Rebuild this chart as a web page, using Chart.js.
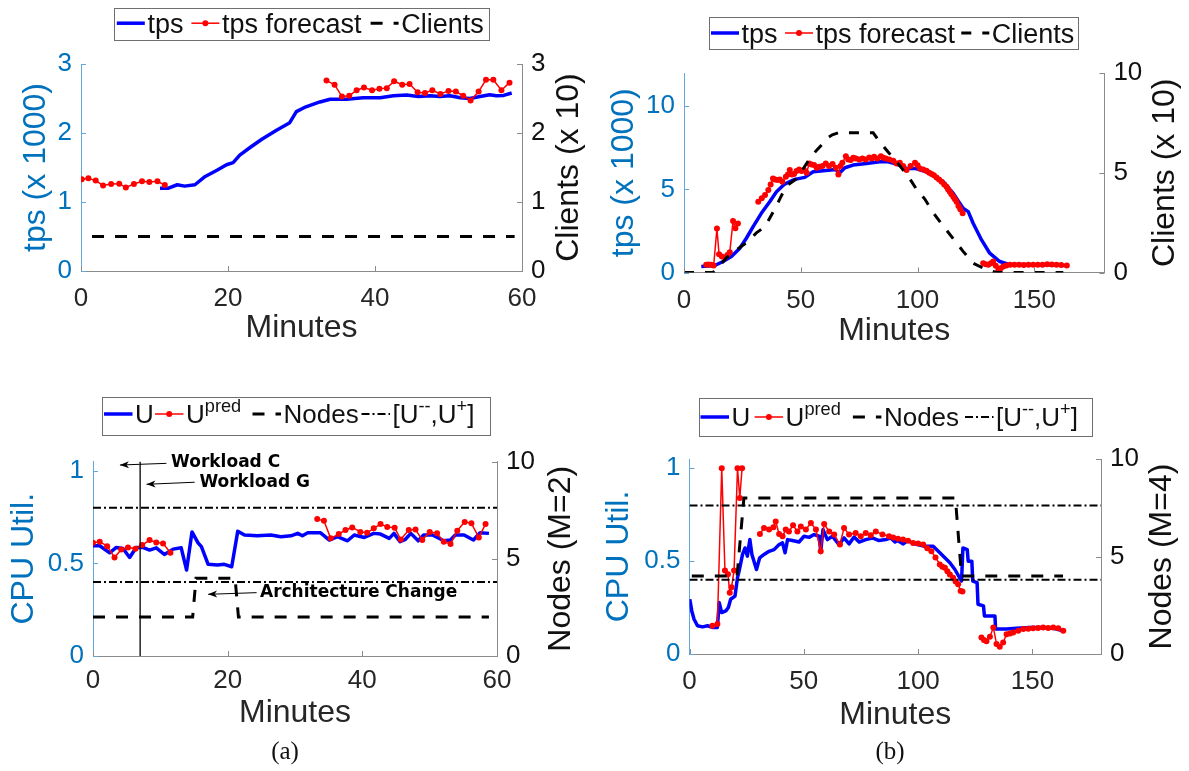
<!DOCTYPE html>
<html>
<head>
<meta charset="utf-8">
<script src="https://cdn.jsdelivr.net/npm/chart.js@4.4.1/dist/chart.umd.min.js"></script>
<style>
  html, body { margin: 0; padding: 0; background: #fff; overflow: hidden; }
  #fig { position: relative; width: 1189px; height: 771px; background: #fff; }
  #fig canvas { position: absolute; }
  .cap { position: absolute; top: 751px; transform: translate(-50%, -50%);
         font-family: 'Liberation Serif', 'DejaVu Serif', serif; font-size: 25px; color: #111; }
</style>
</head>
<body>
<div id="fig">
  <canvas id="chartA" style="left:0;top:0"></canvas>
  <canvas id="chartB" style="left:595px;top:0"></canvas>
  <canvas id="chartC" style="left:0;top:385px"></canvas>
  <canvas id="chartD" style="left:595px;top:385px"></canvas>
  <div class="cap" style="left:285px">(a)</div>
  <div class="cap" style="left:890px">(b)</div>
</div>
<script>
// ---------------- data ----------------
// (a) top: throughput, forecast and client count over a one hour run
const aTpsMin = [10.75, 11.9, 13.1, 14.1, 15.5, 16.9, 18.5, 19.8, 20.7, 21.6, 23.0, 24.6, 26.6, 28.4, 29.3, 30.6, 32.5, 33.9, 36.1, 38.4, 40.7, 42.5, 44.3, 45.9, 47.5, 48.8, 50.2, 51.6, 52.9, 54.3, 55.6, 56.5, 57.5, 58.6];
const aTpsVal = [1.20, 1.20, 1.25, 1.23, 1.25, 1.37, 1.46, 1.54, 1.57, 1.68, 1.79, 1.91, 2.04, 2.15, 2.31, 2.38, 2.45, 2.49, 2.49, 2.51, 2.51, 2.54, 2.55, 2.53, 2.54, 2.53, 2.54, 2.51, 2.50, 2.53, 2.555, 2.54, 2.545, 2.58];
const aFcEarlyMin = [0.1, 1.0, 2.0, 3.0, 4.1, 5.2, 6.1, 7.2, 8.3, 9.3, 10.4, 11.4];
const aFcEarlyVal = [1.33, 1.345, 1.31, 1.24, 1.26, 1.265, 1.21, 1.26, 1.30, 1.29, 1.30, 1.245];
const aFcLateMin = [33.4, 34.5, 35.5, 36.5, 37.5, 38.5, 39.6, 40.6, 41.6, 42.6, 43.7, 44.7, 45.8, 46.8, 47.8, 48.9, 50.0, 51.0, 52.0, 53.0, 54.1, 55.1, 56.1, 57.2, 58.3];
const aFcLateVal = [2.76, 2.70, 2.53, 2.54, 2.62, 2.66, 2.62, 2.64, 2.65, 2.75, 2.70, 2.71, 2.59, 2.58, 2.62, 2.565, 2.61, 2.60, 2.54, 2.47, 2.60, 2.77, 2.77, 2.62, 2.73];
const aClientsMin = [1.5, 59];
const aClientsVal = [0.5, 0.5];

// (b) top: throughput, forecast and client count over the daily-shaped run
const bTpsMin = [7.4, 13.2, 16.7, 20.3, 23.9, 26.7, 29.6, 33.1, 36.7, 39.6, 43.1, 47.4, 51.7, 55.3, 59.6, 65.0, 66.4, 68.9, 72.4, 78.1, 83.8, 87.4, 91.0, 95.3, 98.9, 102.4, 106.7, 111.0, 115.3, 119.5, 121.7, 123.8, 127.4, 130.9, 135.2, 138.8, 148.1, 155.2, 163.1];
const bTpsVal = [0.36, 0.42, 0.66, 0.96, 1.46, 2.06, 2.76, 3.56, 4.26, 4.86, 5.32, 5.60, 5.72, 6.06, 6.12, 6.20, 5.95, 6.30, 6.46, 6.56, 6.66, 6.66, 6.52, 6.26, 6.26, 6.12, 5.86, 5.46, 4.76, 3.86, 3.66, 2.96, 1.96, 1.16, 0.66, 0.50, 0.46, 0.46, 0.42];
const bFcEarlyMin = [9.5, 10.5, 11.6, 12.7, 14.1, 15.0, 16.2, 17.5, 18.6, 19.6, 21.0, 22.0, 23.1];
const bFcEarlyVal = [0.46, 0.48, 0.46, 0.42, 2.64, 1.10, 0.96, 0.90, 1.06, 1.22, 3.10, 2.66, 2.94];
const bFcMidMin = [31.8, 33.3, 34.7, 36.1, 37.1, 38.1, 39.0, 40.0, 41.0, 42.1, 43.6, 44.5, 45.3, 46.2, 47.1, 48.2, 49.3, 50.3, 51.4, 52.5, 53.6, 54.6, 55.7, 56.8, 57.9, 59.3, 60.7, 62.1, 63.6, 65.0, 66.1, 67.0, 67.8, 69.3, 70.3, 71.4, 72.5, 73.6, 75.0, 76.4, 77.8, 79.3, 80.4, 81.4, 82.8, 84.3, 85.3, 86.4, 87.9, 89.6, 91.0, 92.4, 93.8, 95.3, 97.0, 98.9, 100.0, 101.0, 102.4, 103.8, 105.0, 106.0, 107.0, 108.1, 109.2, 110.3, 111.4, 112.4, 113.1, 113.8, 114.5, 115.3, 116.0, 116.7, 117.5, 118.3, 119.3];
const bFcMidVal = [4.26, 4.46, 4.66, 4.96, 5.30, 5.66, 5.60, 5.56, 5.60, 5.46, 5.76, 5.90, 6.16, 5.90, 5.92, 6.10, 6.20, 6.10, 6.16, 6.00, 6.56, 6.50, 6.46, 6.30, 6.36, 6.40, 6.56, 6.40, 6.52, 6.30, 5.90, 6.40, 6.60, 7.00, 6.80, 6.76, 6.90, 6.86, 6.80, 6.86, 6.80, 6.92, 6.85, 6.96, 6.85, 7.00, 6.90, 6.86, 6.80, 6.72, 6.55, 6.60, 6.40, 6.16, 6.40, 6.60, 6.45, 6.26, 6.20, 6.12, 6.00, 5.92, 5.85, 5.72, 5.60, 5.46, 5.30, 5.16, 5.00, 4.86, 4.70, 4.56, 4.40, 4.26, 4.00, 3.80, 3.56];
const bFcTailMin = [128.1, 129.2, 130.3, 131.4, 132.4, 133.5, 134.6, 135.6, 136.7, 138.0, 139.6, 141.5, 143.5, 145.5, 147.5, 149.5, 151.5, 153.5, 155.5, 157.5, 159.5, 161.5, 163.9];
const bFcTailVal = [0.56, 0.50, 0.46, 0.56, 0.66, 0.40, 0.16, 0.25, 0.36, 0.42, 0.46, 0.47, 0.46, 0.45, 0.46, 0.46, 0.47, 0.47, 0.50, 0.48, 0.46, 0.45, 0.42];
const bClientsMin = [0, 12.4, 15.0, 18.1, 21.0, 24.6, 28.0, 31.0, 33.5, 36.0, 39.6, 41.5, 43.9, 48.1, 50.0, 52.4, 54.5, 56.7, 59.0, 61.0, 63.5, 66.0, 73.8, 81.0, 83.8, 87.4, 92.4, 96.7, 99.5, 103.1, 106.7, 111.0, 115.3, 119.5, 123.8, 129.5, 133.8, 162.4];
const bClientsVal = [0, 0, 0.30, 0.73, 1.00, 1.32, 1.60, 1.99, 2.20, 2.58, 3.34, 3.80, 4.35, 4.69, 5.00, 5.45, 5.80, 6.12, 6.40, 6.71, 6.90, 7.00, 7.00, 7.00, 6.55, 6.04, 5.36, 4.69, 4.18, 3.68, 3.00, 2.33, 1.69, 1.06, 0.47, 0.14, 0, 0];

// (a) bottom: CPU utilisation, prediction and node count (M=2)
const cUMin = [0, 1.0, 2.47, 3.46, 4.45, 5.44, 6.42, 7.4, 8.4, 9.4, 10.6, 11.9, 13.1, 13.9, 14.7, 15.6, 16.1, 17.1, 18.5, 19.5, 20.6, 21.5, 22.5, 24.4, 26.4, 27.9, 29.4, 30.4, 31.1, 31.9, 33.8, 35.1, 36.3, 37.8, 38.8, 40.3, 41.7, 42.7, 44.0, 44.7, 45.6, 46.4, 47.2, 48.3, 49.1, 50.4, 52.1, 53.1, 53.8, 55.1, 56.5, 57.5, 58.8];
const cUVal = [0.595, 0.595, 0.557, 0.586, 0.58, 0.532, 0.586, 0.586, 0.572, 0.584, 0.548, 0.577, 0.584, 0.464, 0.67, 0.611, 0.59, 0.495, 0.491, 0.495, 0.482, 0.674, 0.653, 0.649, 0.653, 0.644, 0.649, 0.662, 0.649, 0.665, 0.665, 0.626, 0.644, 0.622, 0.653, 0.64, 0.662, 0.658, 0.635, 0.662, 0.617, 0.63, 0.662, 0.622, 0.653, 0.653, 0.622, 0.626, 0.653, 0.653, 0.626, 0.665, 0.662];
const cPredEarlyMin = [0, 1.0, 2.1, 3.2, 4.2, 5.2, 6.3, 7.3, 8.4, 9.4, 10.4, 11.5];
const cPredEarlyVal = [0.611, 0.617, 0.593, 0.532, 0.575, 0.586, 0.579, 0.599, 0.626, 0.613, 0.608, 0.557];
const cPredLateMin = [33.3, 34.3, 35.3, 36.5, 37.5, 38.5, 39.7, 40.7, 41.7, 42.7, 43.7, 44.8, 45.7, 46.9, 47.9, 48.9, 50.0, 51.1, 52.1, 53.1, 54.1, 55.2, 56.2, 57.3, 58.3];
const cPredLateVal = [0.739, 0.73, 0.635, 0.658, 0.68, 0.694, 0.67, 0.665, 0.689, 0.712, 0.697, 0.692, 0.629, 0.68, 0.683, 0.626, 0.67, 0.662, 0.617, 0.604, 0.676, 0.724, 0.716, 0.64, 0.712];
const cNodesMin = [0, 14.8, 15.3, 21.1, 21.6, 58.8];
const cNodesVal = [2, 2, 4, 4, 2, 2];
const cWorkloadSwitchMin = 7;

// (b) bottom: CPU utilisation, prediction and node count (M=4)
const dUMin = [0.13, 0.99, 2.0, 3.5, 5.7, 7.9, 10.0, 12.2, 13.0, 14.1, 15.9, 17.0, 18.0, 19.9, 21.0, 21.7, 23.2, 24.3, 25.3, 26.4, 27.3, 29.3, 30.7, 32.6, 34.8, 37.0, 39.2, 40.7, 41.8, 42.9, 45.0, 47.9, 50.1, 52.3, 54.5, 56.7, 57.4, 58.4, 60.3, 62.5, 65.4, 67.6, 69.8, 72.0, 74.2, 77.1, 80.0, 82.9, 85.9, 88.0, 89.9, 91.0, 93.5, 95.3, 98.0, 102.9, 106.6, 109.5, 111.7, 113.9, 116.1, 119.0, 119.6, 121.5, 121.9, 123.5, 123.9, 125.8, 126.2, 128.6, 129.0, 133.6, 133.9, 138.7, 143.0, 148.9, 154.8, 159.2, 163.5];
const dUVal = [0.295, 0.232, 0.187, 0.152, 0.146, 0.152, 0.143, 0.143, 0.277, 0.223, 0.232, 0.25, 0.295, 0.312, 0.411, 0.446, 0.536, 0.571, 0.527, 0.616, 0.536, 0.455, 0.518, 0.536, 0.553, 0.562, 0.589, 0.598, 0.545, 0.616, 0.611, 0.603, 0.634, 0.628, 0.643, 0.634, 0.553, 0.67, 0.616, 0.634, 0.589, 0.625, 0.593, 0.63, 0.603, 0.616, 0.625, 0.611, 0.616, 0.625, 0.603, 0.611, 0.593, 0.611, 0.595, 0.58, 0.58, 0.545, 0.518, 0.491, 0.455, 0.393, 0.571, 0.562, 0.5, 0.5, 0.393, 0.384, 0.268, 0.259, 0.205, 0.205, 0.134, 0.134, 0.139, 0.143, 0.143, 0.139, 0.125];
const dPredEarlyMin = [10.0, 12.2, 14.1, 15.5, 16.8, 17.6, 18.4, 19.5, 21.0, 22.0, 23.0];
const dPredEarlyVal = [0.152, 0.161, 1.0, 0.45, 0.43, 0.33, 0.36, 0.45, 1.0, 0.84, 1.0];
const dPredMidMin = [30.8, 32.6, 34.8, 36.7, 37.7, 39.2, 40.7, 42.1, 43.5, 45.3, 47.2, 48.7, 50.9, 53.1, 55.3, 57.4, 58.9, 61.1, 63.3, 65.8, 67.6, 69.8, 72.7, 74.9, 77.1, 79.3, 81.5, 84.4, 87.3, 89.1, 91.2, 93.4, 95.6, 97.8, 100.0, 102.2, 104.0, 105.8, 107.6, 109.5, 110.6, 111.7, 112.8, 113.9, 115.3, 116.4, 117.5, 118.6, 119.4];
const dPredMidVal = [0.646, 0.679, 0.67, 0.682, 0.714, 0.646, 0.634, 0.67, 0.66, 0.693, 0.66, 0.687, 0.67, 0.705, 0.67, 0.553, 0.70, 0.66, 0.643, 0.589, 0.679, 0.643, 0.652, 0.634, 0.652, 0.64, 0.66, 0.643, 0.634, 0.627, 0.62, 0.616, 0.61, 0.598, 0.595, 0.589, 0.57, 0.553, 0.52, 0.482, 0.47, 0.464, 0.445, 0.428, 0.411, 0.39, 0.375, 0.339, 0.336];
const dPredTailMin = [127.7, 128.8, 129.9, 131.4, 132.9, 134.3, 135.7, 137.2, 138.7, 140.2, 141.6, 143.8, 146.0, 148.2, 150.3, 152.5, 154.7, 156.9, 159.1, 161.3, 163.5];
const dPredTailVal = [0.089, 0.075, 0.068, 0.093, 0.143, 0.054, 0.039, 0.062, 0.107, 0.11, 0.116, 0.125, 0.134, 0.136, 0.139, 0.14, 0.143, 0.14, 0.143, 0.138, 0.125];
const dNodesMin = [1, 20.8, 23.8, 116.3, 119.0, 163.4];
const dNodesVal = [4, 4, 8, 8, 4, 4];

// utilisation band limits [U--, U+]
const uBounds = [0.4, 0.8];

// axis ticks and their labels
const minuteTicksHour = [0, 20, 40, 60];
const minuteLabelsHour = ['0', '20', '40', '60'];
const minuteTicksLong = [0, 50, 100, 150];
const minuteLabelsLong = ['0', '50', '100', '150'];
const tpsTicksA = [0, 1, 2, 3];
const tpsLabelsA = ['0', '1', '2', '3'];
const tpsTicksB = [0, 5, 10];
const tpsLabelsB = ['0', '5', '10'];
const cpuTicks = [0, 0.5, 1];
const cpuLabels = ['0', '0.5', '1'];
const rightTicksTen = [0, 5, 10];
const rightLabelsTen = ['0', '5', '10'];

// legend entries
const legendTps = ['tps', 'tps forecast', 'Clients'];
const legendCpu = ['U', 'U^{pred}', 'Nodes', '[U^{--},U^{+}]'];

// ---------------- styling ----------------
const FONT = "'Liberation Sans', Arial, sans-serif";
const AX_BLUE = '#0072BD';
const AX_BLUE_LINE = '#62a8dc';
const AX_GRAY = '#8a8a8a';
const TXT_DARK = '#262626';
const TXT_RIGHT = '#111111';

const pts = (xs, ys) => xs.map((x, i) => ({ x, y: ys[i] }));
function joinSegments(...segs) {
  const out = [];
  segs.forEach((s, k) => {
    if (k > 0) out.push({ x: (out[out.length - 1].x + s[0].x) / 2, y: null });
    out.push(...s);
  });
  return out;
}
const blueSeries = (data) => ({ data, borderColor: '#0000FF', borderWidth: 3.5, borderJoinStyle: 'round',
  pointRadius: 0, tension: 0, yAxisID: 'yL', order: 3 });
const redSeries = (data) => ({ data, borderColor: '#FF0000', backgroundColor: '#FF0000', borderWidth: 1.5,
  pointRadius: 3, pointBackgroundColor: '#FF0000', pointBorderWidth: 0, tension: 0, yAxisID: 'yL', order: 2 });
const dashedSeries = (data, dash) => ({ data, borderColor: '#000000', borderWidth: 3, borderDash: dash,
  pointRadius: 0, tension: 0, yAxisID: 'yR', order: 1 });
const boundSeries = (data) => ({ data, borderColor: '#000000', borderWidth: 2, borderDash: [8, 3, 2, 3],
  pointRadius: 0, tension: 0, yAxisID: 'yL', order: 0 });

// ---------------- plugins ----------------
// inward tick marks on every axis
const inTicks = {
  id: 'inTicks',
  afterDatasetsDraw(chart) {
    const { ctx, chartArea: a } = chart;
    ctx.save();
    ctx.lineWidth = 1;
    for (const s of Object.values(chart.scales)) {
      ctx.strokeStyle = s.options.border.color;
      for (const t of s.ticks) {
        const p = Math.round(s.getPixelForValue(t.value)) + 0.5;
        ctx.beginPath();
        if (s.axis === 'x') { ctx.moveTo(p, a.bottom); ctx.lineTo(p, a.bottom - 5); }
        else if (s.position === 'left') { ctx.moveTo(a.left, p); ctx.lineTo(a.left + 5, p); }
        else { ctx.moveTo(a.right, p); ctx.lineTo(a.right - 5, p); }
        ctx.stroke();
      }
    }
    ctx.restore();
  }
};

// right axis title, reading bottom to top
const rightTitle = {
  id: 'rightTitle',
  afterDraw(chart, args, o) {
    if (!o || !o.text) return;
    const { ctx, chartArea: a } = chart;
    ctx.save();
    ctx.translate(o.x, (a.top + a.bottom) / 2);
    ctx.rotate(-Math.PI / 2);
    ctx.font = `32px ${FONT}`;
    ctx.fillStyle = TXT_RIGHT;
    ctx.textAlign = 'center';
    ctx.textBaseline = 'middle';
    ctx.fillText(o.text, 0, 0);
    ctx.restore();
  }
};

// text with ^{...} superscripts
function drawRich(ctx, str, x, baseY, size) {
  const parts = [];
  const re = /\^\{([^}]*)\}/g;
  let last = 0, m;
  while ((m = re.exec(str))) {
    if (m.index > last) parts.push({ t: str.slice(last, m.index), sup: false });
    parts.push({ t: m[1], sup: true });
    last = re.lastIndex;
  }
  if (last < str.length) parts.push({ t: str.slice(last), sup: false });
  ctx.textAlign = 'left';
  ctx.textBaseline = 'alphabetic';
  ctx.fillStyle = '#111';
  for (const p of parts) {
    const fs = p.sup ? size * 0.7 : size;
    ctx.font = `${fs}px ${FONT}`;
    const y = p.sup ? baseY - size * 0.42 : baseY;
    ctx.fillText(p.t, x, y);
    x += ctx.measureText(p.t).width;
  }
}

// boxed horizontal legend above the axes
const figLegend = {
  id: 'figLegend',
  afterDraw(chart, args, o) {
    if (!o || !o.box) return;
    const ctx = chart.ctx;
    const [x0, y0, x1, y1] = o.box;
    ctx.save();
    ctx.fillStyle = '#ffffff';
    ctx.fillRect(x0, y0, x1 - x0, y1 - y0);
    ctx.strokeStyle = '#6f6f6f';
    ctx.lineWidth = 1;
    ctx.strokeRect(Math.round(x0) + 0.5, Math.round(y0) + 0.5, Math.round(x1 - x0), Math.round(y1 - y0));
    o.labels.forEach((label, k) => {
      const ds = chart.data.datasets[o.datasets[k]];
      const sx = o.starts[k], ex = sx + o.sampleLen, cy = o.cy;
      ctx.save();
      ctx.strokeStyle = ds.borderColor;
      ctx.lineWidth = ds.borderWidth;
      ctx.setLineDash(ds.borderDash || []);
      ctx.beginPath(); ctx.moveTo(sx, cy); ctx.lineTo(ex, cy); ctx.stroke();
      if (ds.pointRadius > 0) {
        ctx.setLineDash([]);
        ctx.fillStyle = ds.pointBackgroundColor;
        ctx.beginPath(); ctx.arc((sx + ex) / 2, cy, ds.pointRadius, 0, Math.PI * 2); ctx.fill();
      }
      ctx.restore();
      drawRich(ctx, label, ex + o.textGap, cy + o.size * 0.36, o.size);
    });
    ctx.restore();
  }
};

// arrow call-outs placed in data coordinates
const callouts = {
  id: 'callouts',
  afterDatasetsDraw(chart, args, o) {
    if (!o || !o.items) return;
    const { ctx, scales } = chart;
    const X = v => scales.x.getPixelForValue(v), Y = v => scales.yL.getPixelForValue(v);
    ctx.save();
    for (const it of o.items) {
      const tx = X(it.tail[0]), ty = Y(it.tail[1]), hx = X(it.head[0]), hy = Y(it.head[1]);
      ctx.strokeStyle = '#000'; ctx.fillStyle = '#000'; ctx.lineWidth = 1;
      ctx.beginPath(); ctx.moveTo(tx, ty); ctx.lineTo(hx, hy); ctx.stroke();
      const ang = Math.atan2(hy - ty, hx - tx);
      ctx.save();
      ctx.translate(hx, hy); ctx.rotate(ang);
      ctx.beginPath(); ctx.moveTo(0, 0); ctx.lineTo(-9, 3.5); ctx.lineTo(-6.5, 0); ctx.lineTo(-9, -3.5); ctx.closePath(); ctx.fill();
      ctx.restore();
      ctx.font = `bold 17px 'DejaVu Sans', sans-serif`;
      ctx.textAlign = 'left'; ctx.textBaseline = 'middle';
      ctx.fillText(it.text, X(it.at[0]), Y(it.at[1]));
    }
    ctx.restore();
  }
};

Chart.register(inTicks, rightTitle, figLegend, callouts);

// ---------------- chart builder ----------------
function buildPanel(id, p) {
  const [W, H] = p.size;
  const cv = document.getElementById(id);
  cv.width = W; cv.height = H;
  const box = p.plot;
  const tickFont = { family: FONT, size: 26, lineHeight: 1 };
  const titleFont = { family: FONT, size: 32, lineHeight: 1.2 };
  return new Chart(cv, {
    type: 'line',
    data: { datasets: p.datasets },
    options: {
      responsive: false,
      animation: false,
      devicePixelRatio: 1,
      events: [],
      layout: { padding: { left: 0, right: 0, top: box.t, bottom: 0 } },
      plugins: {
        legend: { display: false },
        tooltip: { enabled: false },
        rightTitle: { text: p.rightTitle, x: p.rightTitleX },
        figLegend: p.legend,
        callouts: p.callouts || {}
      },
      scales: {
        x: {
          type: 'linear', min: p.x.min, max: p.x.max,
          afterBuildTicks: s => { s.ticks = p.x.ticks.map(v => ({ value: v })); },
          afterFit: s => { s.height = H - box.b; },
          grid: { display: false, drawTicks: false },
          border: { display: true, color: AX_GRAY, width: 1 },
          ticks: { font: tickFont, color: TXT_DARK, padding: p.xTickPad, maxRotation: 0, callback: (v, i) => p.x.labels[i] },
          title: { display: true, text: 'Minutes', color: TXT_DARK, font: titleFont,
                   padding: { top: 0, bottom: p.xTitleOffset - 19.2 } }
        },
        yL: {
          type: 'linear', position: 'left', min: p.yL.min, max: p.yL.max,
          afterBuildTicks: s => { s.ticks = p.yL.ticks.map(v => ({ value: v })); },
          afterFit: s => { s.width = box.l; },
          grid: { display: false, drawTicks: false },
          border: { display: true, color: AX_BLUE_LINE, width: 1 },
          ticks: { font: tickFont, color: AX_BLUE, padding: 9, callback: (v, i) => p.yL.labels[i] },
          title: { display: true, text: p.leftTitle, color: AX_BLUE, font: titleFont,
                   padding: { top: p.leftTitleX - 19.2, bottom: 0 } }
        },
        yR: {
          type: 'linear', position: 'right', min: p.yR.min, max: p.yR.max,
          afterBuildTicks: s => { s.ticks = p.yR.ticks.map(v => ({ value: v })); },
          afterFit: s => { s.width = W - box.r; },
          grid: { display: false, drawTicks: false },
          border: { display: true, color: AX_GRAY, width: 1 },
          ticks: { font: tickFont, color: TXT_RIGHT, padding: 9, callback: (v, i) => p.yR.labels[i] }
        }
      }
    }
  });
}

// (a) top
buildPanel('chartA', {
  size: [595, 385],
  plot: { l: 81, r: 522, t: 64, b: 271 },
  x: { min: 0, max: 60, ticks: minuteTicksHour, labels: minuteLabelsHour },
  yL: { min: 0, max: 3, ticks: tpsTicksA, labels: tpsLabelsA },
  yR: { min: 0, max: 3, ticks: tpsTicksA, labels: tpsLabelsA },
  leftTitle: 'tps (x 1000)', leftTitleX: 36,
  rightTitle: 'Clients (x 10)', rightTitleX: 569,
  xTitleOffset: 57, xTickPad: 15,
  datasets: [
    blueSeries(pts(aTpsMin, aTpsVal)),
    redSeries(joinSegments(pts(aFcEarlyMin, aFcEarlyVal), pts(aFcLateMin, aFcLateVal))),
    dashedSeries(pts(aClientsMin, aClientsVal), [12, 11])
  ],
  legend: { box: [114, 7.5, 489, 39], cy: 23.2, starts: [116.8, 191.4, 370.6], sampleLen: 28,
            textGap: 2.6, size: 27, labels: legendTps, datasets: [0, 1, 2] }
});

// (b) top
buildPanel('chartB', {
  size: [594, 385],
  plot: { l: 89, r: 509.4, t: 73, b: 272.5 },
  x: { min: 0, max: 180, ticks: minuteTicksLong, labels: minuteLabelsLong },
  yL: { min: 0, max: 12, ticks: tpsTicksB, labels: tpsLabelsB },
  yR: { min: 0, max: 10, ticks: rightTicksTen, labels: rightLabelsTen },
  leftTitle: 'tps (x 1000)', leftTitleX: 29.5,
  rightTitle: 'Clients (x 10)', rightTitleX: 570,
  xTitleOffset: 54, xTickPad: 15,
  datasets: [
    blueSeries(pts(bTpsMin, bTpsVal)),
    redSeries(joinSegments(pts(bFcEarlyMin, bFcEarlyVal), pts(bFcMidMin, bFcMidVal), pts(bFcTailMin, bFcTailVal))),
    dashedSeries(pts(bClientsMin, bClientsVal), [10, 11])
  ],
  legend: { box: [114, 17, 483, 48.5], cy: 33, starts: [116, 190, 366.3], sampleLen: 28,
            textGap: 2.4, size: 27, labels: legendTps, datasets: [0, 1, 2] }
});

// (a) bottom
buildPanel('chartC', {
  size: [595, 386],
  plot: { l: 93, r: 497, t: 76.5, b: 271 },
  x: { min: 0, max: 60, ticks: minuteTicksHour, labels: minuteLabelsHour },
  yL: { min: 0, max: 1.05, ticks: cpuTicks, labels: cpuLabels },
  yR: { min: 0, max: 10, ticks: rightTicksTen, labels: rightLabelsTen },
  leftTitle: 'CPU Util.', leftTitleX: 24,
  rightTitle: 'Nodes (M=2)', rightTitleX: 561.5,
  xTitleOffset: 58, xTickPad: 12,
  datasets: [
    blueSeries(pts(cUMin, cUVal)),
    redSeries(joinSegments(pts(cPredEarlyMin, cPredEarlyVal), pts(cPredLateMin, cPredLateVal))),
    dashedSeries(pts(cNodesMin, cNodesVal), [12, 11]),
    boundSeries(pts([0, 60], [uBounds[1], uBounds[1]])),
    boundSeries(pts([0, 60], [uBounds[0], uBounds[0]])),
    { data: pts([cWorkloadSwitchMin, cWorkloadSwitchMin], [0, 1.05]), borderColor: '#000', borderWidth: 1.3,
      pointRadius: 0, yAxisID: 'yL', order: 0 }
  ],
  legend: { box: [101.5, 12, 489.5, 50], cy: 29, starts: [104, 155, 252.5, 361.5], sampleLen: 28.5,
            textGap: 2.5, size: 26, labels: legendCpu, datasets: [0, 1, 2, 3] },
  callouts: { items: [
    { text: 'Workload C', head: [4.0, 1.031], tail: [10.9, 1.040], at: [11.6, 1.043] },
    { text: 'Workload G', head: [7.95, 0.927], tail: [15.1, 0.938], at: [15.8, 0.936] },
    { text: 'Architecture Change', head: [17.1, 0.333], tail: [24.3, 0.342], at: [24.8, 0.342] }
  ] }
});

// (b) bottom
buildPanel('chartD', {
  size: [594, 386],
  plot: { l: 94.5, r: 506, t: 74, b: 269 },
  x: { min: 0, max: 180, ticks: minuteTicksLong, labels: minuteLabelsLong },
  yL: { min: 0, max: 1.05, ticks: cpuTicks, labels: cpuLabels },
  yR: { min: 0, max: 10, ticks: rightTicksTen, labels: rightLabelsTen },
  leftTitle: 'CPU Util.', leftTitleX: 24.5,
  rightTitle: 'Nodes (M=4)', rightTitleX: 567.5,
  xTitleOffset: 56, xTickPad: 15,
  datasets: [
    blueSeries(pts(dUMin, dUVal)),
    redSeries(joinSegments(pts(dPredEarlyMin, dPredEarlyVal), pts(dPredMidMin, dPredMidVal), pts(dPredTailMin, dPredTailVal))),
    dashedSeries(pts(dNodesMin, dNodesVal), [12, 11]),
    boundSeries(pts([0, 180], [uBounds[1], uBounds[1]])),
    boundSeries(pts([0, 180], [uBounds[0], uBounds[0]]))
  ],
  legend: { box: [103.6, 13, 497, 51.4], cy: 32, starts: [105.5, 159.6, 257.9, 370], sampleLen: 28.5,
            textGap: 2.5, size: 26, labels: legendCpu, datasets: [0, 1, 2, 3] }
});
</script>
</body>
</html>
